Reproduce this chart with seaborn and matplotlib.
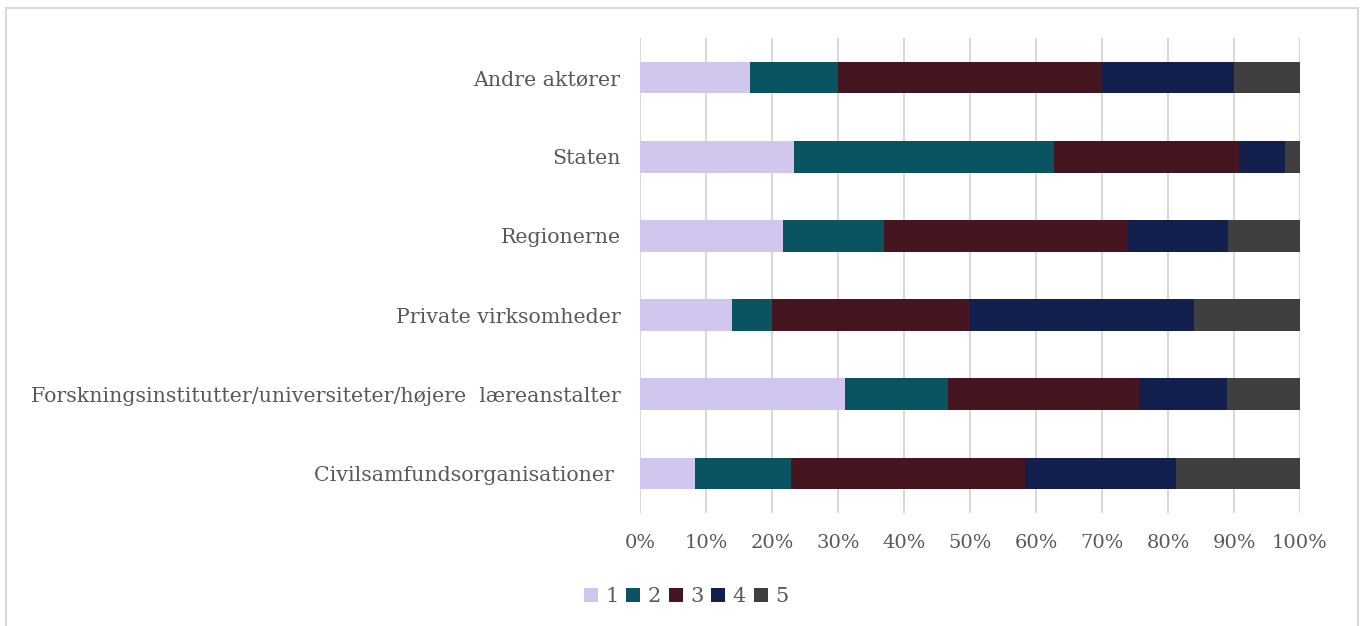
import matplotlib
matplotlib.use("Agg")
import matplotlib.pyplot as plt
import seaborn as sns
import pandas as pd
from matplotlib.patches import Rectangle
from matplotlib.lines import Line2D

categories = [
    "Andre aktører",
    "Staten",
    "Regionerne",
    "Private virksomheder",
    "Forskningsinstitutter/universiteter/højere  læreanstalter",
    "Civilsamfundsorganisationer ",
]
series_names = ["1", "2", "3", "4", "5"]
s1 = [16.7, 23.3, 21.7, 14.0, 31.1, 8.3]
s2 = [13.3, 39.5, 15.2, 6.0, 15.6, 14.6]
s3 = [40.0, 27.9, 37.0, 30.0, 28.9, 35.4]
s4 = [20.0, 7.0, 15.2, 34.0, 13.3, 22.9]
s5 = [10.0, 2.3, 10.9, 16.0, 11.1, 18.8]
colors = ["#D0C6EE", "#0A5462", "#461620", "#131F4C", "#3F3F3F"]
xticks = [0, 10, 20, 30, 40, 50, 60, 70, 80, 90, 100]
xtick_labels = ["0%", "10%", "20%", "30%", "40%", "50%", "60%", "70%", "80%", "90%", "100%"]

sns.set_theme(style="white")
plt.rcParams["font.family"] = ["DejaVu Serif"]
text_color = "#595959"

W, H = 1363, 626
fig = plt.figure(figsize=(W / 100, H / 100), dpi=100)
ax = fig.add_axes([640 / W, 1 - 513 / H, 660 / W, 475 / H])

series = [s1, s2, s3, s4, s5]
df = pd.DataFrame({"cat": categories})
cum = [0.0] * len(categories)
cums = []
for s in series:
    cum = [c + v for c, v in zip(cum, s)]
    cums.append(cum)
for i in range(len(series) - 1, -1, -1):
    df["v"] = cums[i]
    sns.barplot(data=df, x="v", y="cat", color=colors[i], width=0.4,
                saturation=1, orient="h", ax=ax, zorder=3, linewidth=0)

ax.set_xlim(0, 100)
ax.set_ylim(5.5, -0.5)
ax.set_xticks(xticks)
ax.set_xticklabels(xtick_labels, fontsize=14, color=text_color)
ax.set_yticks(range(len(categories)))
ax.set_yticklabels(categories, fontsize=14.8, color=text_color)
ax.tick_params(axis="x", length=0, pad=15)
ax.tick_params(axis="y", length=0, pad=14)
ax.set_xlabel("")
ax.set_ylabel("")
for sp in ax.spines.values():
    sp.set_visible(False)
ax.grid(axis="x", color="#D9D9D9", linewidth=1.5, zorder=0)
ax.set_axisbelow(True)

handles = [Line2D([0], [0], marker="s", linestyle="none", markersize=10,
                  markerfacecolor=c, markeredgewidth=0) for c in colors]
fig.legend(handles, series_names, loc="center", bbox_to_anchor=(686 / W, 1 - 597 / H),
           ncol=5, frameon=False, fontsize=15, labelcolor=text_color,
           handlelength=0.7, handletextpad=0.35, columnspacing=0.35)

border = Rectangle((6 / W, -0.1), (1358 - 6) / W, (1 - 8 / H) + 0.1,
                   transform=fig.transFigure, fill=False, edgecolor="#D9D9D9", linewidth=1.5)
fig.patches.append(border)

fig.savefig("out.png", dpi=100)
